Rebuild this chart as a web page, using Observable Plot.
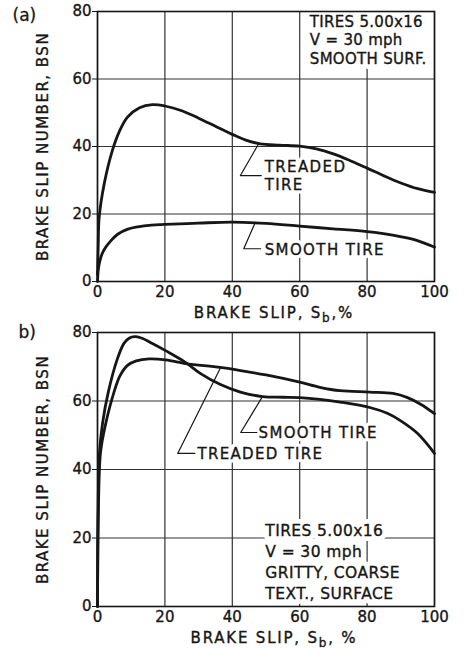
<!DOCTYPE html>
<html>
<head>
<meta charset="utf-8">
<script src="https://cdn.jsdelivr.net/npm/d3@7"></script>
<script src="https://cdn.jsdelivr.net/npm/@observablehq/plot@0.6"></script>
<style>
  html, body { margin: 0; padding: 0; background: white; }
  #chart svg { display: block; }
</style>
</head>
<body>
<div id="chart"></div>
<script>
// ---- tick labels ----
const xTicks = [0, 20, 40, 60, 80, 100];
const yTicks = [0, 20, 40, 60, 80];

// ---- panel (a): smooth surface, [brake slip %, BSN] ----
const treadedA = [[0,2],[0.2,10],[0.5,19],[2,29],[4.4,38.8],[6.5,44.5],[8.9,48.7],[12.5,51.5],[16.3,52.4],[20,52],[25,50.6],[30,48.4],[35,46],[40,43.6],[44,41.9],[48.3,40.8],[54,40.4],[60,40.1],[65,39.3],[70,37.8],[75,35.8],[80,33.6],[85,31.3],[90,29.2],[95,27.5],[100,26.4]];
const smoothA = [[0,0],[0.3,4],[1,7.2],[2,9.5],[4,12.1],[6,14],[9,15.5],[12,16.2],[16,16.7],[20,16.9],[30,17.3],[40,17.6],[50,17.2],[60,16.4],[70,15.6],[80,14.8],[88,13.7],[94,12.4],[100,10.2]];

// ---- panel (b): gritty, coarse texture surface ----
const treadedB = [[0,0],[0.3,30],[0.9,45],[2.3,52.8],[4.9,62.6],[6.7,67.4],[8.9,70.4],[11.5,71.7],[15.3,72.3],[20.2,72],[26.1,70.9],[30,70.5],[36.5,69.8],[42.4,68.9],[50,67.6],[60,65.5],[66,64],[72,63],[80.8,62.6],[87.7,62.2],[92,61],[96,59],[100,56.3]];
const smoothB = [[0,0],[0.2,30],[0.6,45],[1.5,53.5],[3.2,62.6],[5.9,72.3],[7.9,76.9],[9.5,78.4],[11,78.8],[13,78.4],[16.3,76.8],[20.2,74.7],[26.1,71.3],[30.6,68],[36.5,64.8],[42.4,62.6],[49,61.3],[55,61.1],[60,61],[66,60.5],[72,59.7],[80.8,58.1],[86,56.4],[90,54.2],[95,50.5],[100,44.7]];

// ---- texts ----
const panelLabels = ["(a)", "b)"];
const yLabel = "BRAKE SLIP NUMBER, BSN";
const xLabels = ["BRAKE SLIP, Sb,%", "BRAKE SLIP, Sb, %"];
const infoA = ["TIRES 5.00x16", "V = 30 mph", "SMOOTH SURF."];
const infoB = ["TIRES 5.00x16", "V = 30 mph", "GRITTY, COARSE", "TEXT., SURFACE"];
const curveNames = ["TREADED\nTIRE", "SMOOTH TIRE", "TREADED TIRE"];

// ---- annotation anchors (data units) ----
const leadersA = [
  {name: curveNames[0], pts: [[47.7,40.6],[42.4,31.4],[48.6,31.4]], text: [49.6,31.4]},
  {name: curveNames[1], pts: [[46.8,17.5],[43.4,9.7],[48.4,9.7]], text: [49.6,9.7]}
];
const leadersB = [
  {name: curveNames[2], pts: [[36.5,69.7],[23.8,44.7],[28.9,44.7]], text: [29.7,44.7]},
  {name: curveNames[1], pts: [[48.9,61.2],[42.5,50.8],[47.3,50.8]], text: [47.8,50.8]}
];

const toXY = (arr, series) => arr.map(([x, y]) => ({x, y, series}));
const ink = "#161616";
const font = "DejaVu Sans";

function panel({curves, leaders, info, infoAt, infoLH, infoSize, tag, tagDx, tagDy, xLabel, mt, mb, height}) {
  const lines = curves.flat();
  const leaderRows = leaders.flatMap((l, i) => l.pts.map(([x, y]) => ({x, y, k: i})));
  const infoOpts = {x: infoAt[0], y: infoAt[1], textAnchor: "start", lineAnchor: "top",
    lineHeight: infoLH, fontSize: infoSize};
  const nameOpts = {x: d => d.text[0], y: d => d.text[1], text: "name", textAnchor: "start",
    lineAnchor: "middle", lineHeight: 1.2, fontSize: 15};
  return Plot.plot({
    width: 465, height,
    marginLeft: 97, marginRight: 31, marginTop: mt, marginBottom: mb,
    x: {domain: [0, 100]},
    y: {domain: [0, 80]},
    style: {fontFamily: font, fontSize: "15px", color: ink, background: "white", overflow: "visible"},
    marks: [
      Plot.gridX(xTicks, {stroke: "#333", strokeOpacity: 1, strokeWidth: 1.2}),
      Plot.gridY(yTicks, {stroke: "#333", strokeOpacity: 1, strokeWidth: 1.2}),
      // white knock-out halos behind the annotations
      Plot.text([info.join("\n")], {...infoOpts, fill: "white", stroke: "white", strokeWidth: 10, className: "info"}),
      Plot.text(leaders, {...nameOpts, fill: "white", stroke: "white", strokeWidth: 7, className: "curvename"}),
      Plot.frame({stroke: ink, strokeWidth: 1.6}),
      Plot.axisX({ticks: xTicks, tickSize: 0, tickPadding: 5, fontSize: 15,
        label: xLabel, labelAnchor: "center", labelOffset: 36, labelArrow: "none"}),
      Plot.axisY({ticks: yTicks, tickSize: 5, tickPadding: 1, fontSize: 15,
        label: yLabel, labelAnchor: "center", labelOffset: 60, labelArrow: "none"}),
      // annotation text
      Plot.text([info.join("\n")], {...infoOpts, fill: ink, stroke: ink, strokeWidth: 0.35, className: "info"}),
      Plot.text(leaders, {...nameOpts, fill: ink, stroke: ink, strokeWidth: 0.35, className: "curvename"}),
      Plot.line(leaderRows, {x: "x", y: "y", z: "k", stroke: ink, strokeWidth: 1.2}),
      Plot.line(lines, {x: "x", y: "y", z: "series", stroke: ink, strokeWidth: 2.8, curve: "catmull-rom"}),
      Plot.text([tag], {frameAnchor: "top-left", dx: tagDx, dy: tagDy, textAnchor: "start", lineAnchor: "middle",
        fontSize: 17, fill: ink, stroke: ink, strokeWidth: 0.3})
    ]
  });
}

function finish(svg, infoSpacing, nameSpacing) {
  const ns = "http://www.w3.org/2000/svg";
  svg.querySelectorAll("text").forEach(t => {
    const s = t.textContent;
    if (s.startsWith("BRAKE SLIP, Sb")) {
      const rest = s.slice("BRAKE SLIP, Sb".length);
      t.textContent = "";
      const a = document.createElementNS(ns, "tspan"); a.textContent = "BRAKE SLIP, S";
      const b = document.createElementNS(ns, "tspan"); b.textContent = "b"; b.setAttribute("dy", "4"); b.setAttribute("font-size", "12");
      const c = document.createElementNS(ns, "tspan"); c.textContent = rest; c.setAttribute("dy", "-4");
      t.append(a, b, c);
      t.style.letterSpacing = "1.8px";
      t.setAttribute("dx", "8");
    } else if (s === yLabel) {
      t.style.letterSpacing = "1.5px";
    }
  });
  // slightly heavier lettering on axes, like the inked original
  svg.querySelectorAll('g[aria-label$="tick label"], g[aria-label$="axis label"]').forEach(g => {
    g.setAttribute("stroke", ink); g.setAttribute("stroke-width", "0.35");
  });
  svg.querySelectorAll(".info text").forEach(t => t.style.letterSpacing = infoSpacing);
  svg.querySelectorAll(".curvename text").forEach(t => t.style.letterSpacing = nameSpacing);
}

const svgA = panel({
  curves: [toXY(treadedA, "treaded"), toXY(smoothA, "smooth")],
  leaders: leadersA, info: infoA, infoAt: [63, 79.5], infoLH: 1.25, infoSize: 15,
  tag: panelLabels[0], tagDx: -85, tagDy: 4, xLabel: xLabels[0], mt: 11, mb: 44, height: 325
});
const svgB = panel({
  curves: [toXY(treadedB, "treaded"), toXY(smoothB, "smooth")],
  leaders: leadersB, info: infoB, infoAt: [49.8, 25], infoLH: 1.35, infoSize: 15.5,
  tag: panelLabels[1], tagDx: -79, tagDy: 0, xLabel: xLabels[1], mt: 7, mb: 42, height: 323
});
finish(svgA, "0.3px", "1.4px");
finish(svgB, "0.4px", "1.3px");
document.getElementById("chart").append(svgA, svgB);
</script>
</body>
</html>
